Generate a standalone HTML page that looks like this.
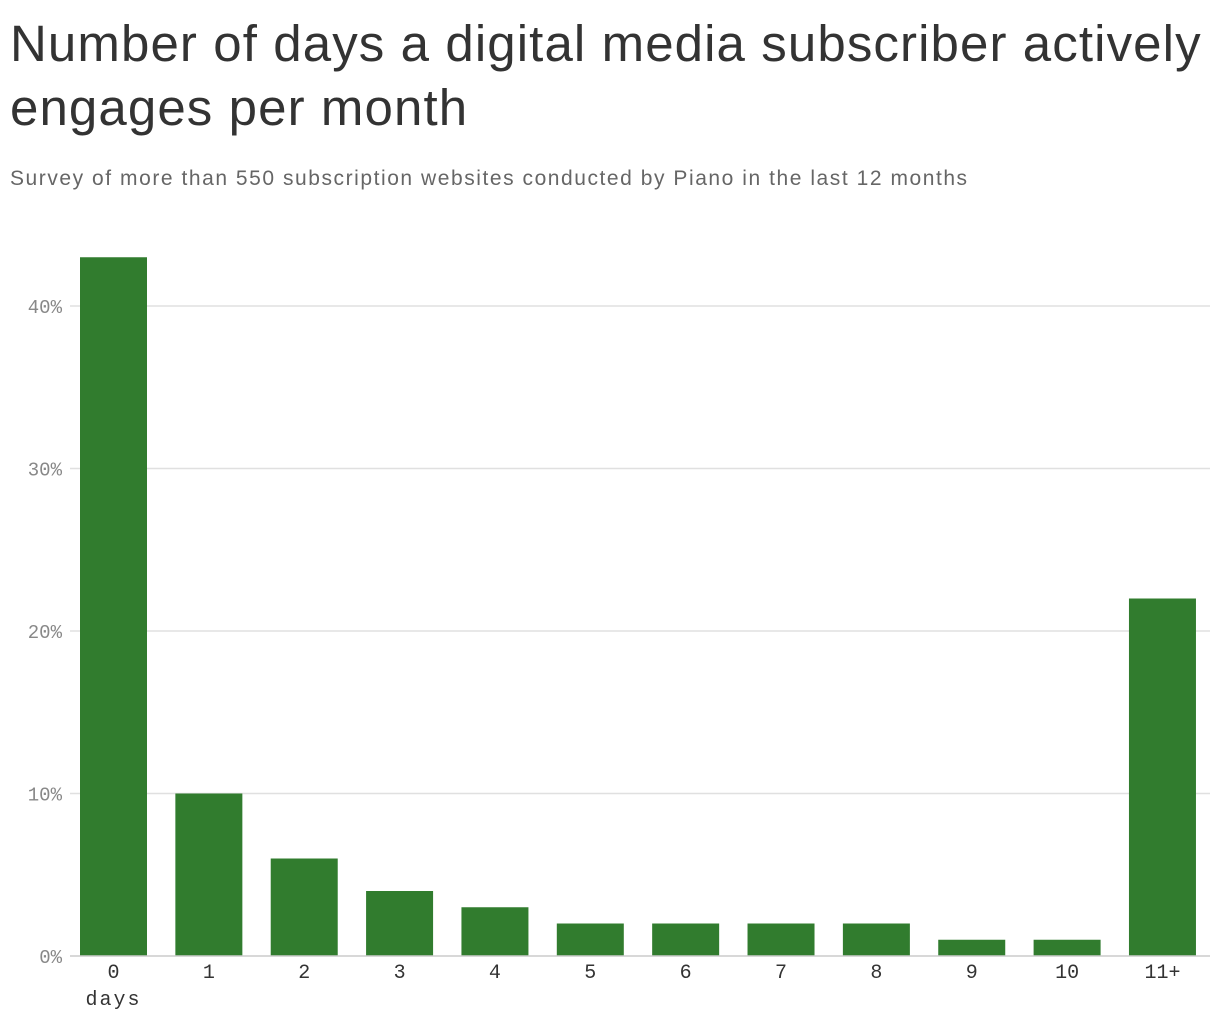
<!DOCTYPE html>
<html><head><meta charset="utf-8"><style>
body{margin:0;background:#fff;width:1220px;height:1020px;overflow:hidden;font-family:"Liberation Sans",sans-serif}
h1{position:absolute;left:10px;top:12px;margin:0;font-size:51px;font-weight:400;line-height:64px;color:#333;letter-spacing:1.1px;white-space:nowrap}
.sub{position:absolute;left:10px;top:167px;font-size:21px;color:#666;letter-spacing:1.55px;white-space:nowrap}
svg{position:absolute;left:0;top:0}
</style></head><body>
<h1>Number of days a digital media subscriber actively<br>engages per month</h1>
<div class="sub">Survey of more than 550 subscription websites conducted by Piano in the last 12 months</div>
<svg id="c" width="1220" height="1020"></svg>
<script>
const categories=["0","1","2","3","4","5","6","7","8","9","10","11+"];
const values=[43,10,6,4,3,2,2,2,2,1,1,22];
const yTicks=[0,10,20,30,40];
const NS="http://www.w3.org/2000/svg";
const svg=document.getElementById('c');
const y0=956, pxPer=16.25;
const y=v=>y0-v*pxPer;
const x=i=>113.5+i*95.36;
const bw=67;
function mk(t,a){const e=document.createElementNS(NS,t);for(const k in a)e.setAttribute(k,a[k]);svg.appendChild(e);return e;}
yTicks.forEach(t=>{
  if(t>0){const l=mk('line',{x1:70,x2:1210,y1:y(t),y2:y(t),stroke:'#e0e0e0','stroke-width':1.5});
  
  }
  const tx=mk('text',{x:62,y:y(t)+7,'text-anchor':'end','font-family':'Liberation Mono, monospace','font-size':19,fill:'#888'});
  tx.textContent=t+'%';
  
  
});
values.forEach((v,i)=>{
  const r=mk('rect',{x:x(i)-bw/2,y:y(v),width:bw,height:v*pxPer,fill:'#317c2e'});
  
  
  const t=mk('text',{x:x(i),y:978,'text-anchor':'middle','font-family':'Liberation Mono, monospace','font-size':20,fill:'#333'});
  t.textContent=categories[i];
  
  
});
const ax=mk('line',{x1:70,x2:1210,y1:y0,y2:y0,stroke:'#ccc','stroke-width':1.5});


const d=mk('text',{x:x(0),y:1005,'text-anchor':'middle','font-family':'Liberation Mono, monospace','font-size':20,fill:'#333','letter-spacing':2});
d.textContent='days';


</script>
</body></html>
